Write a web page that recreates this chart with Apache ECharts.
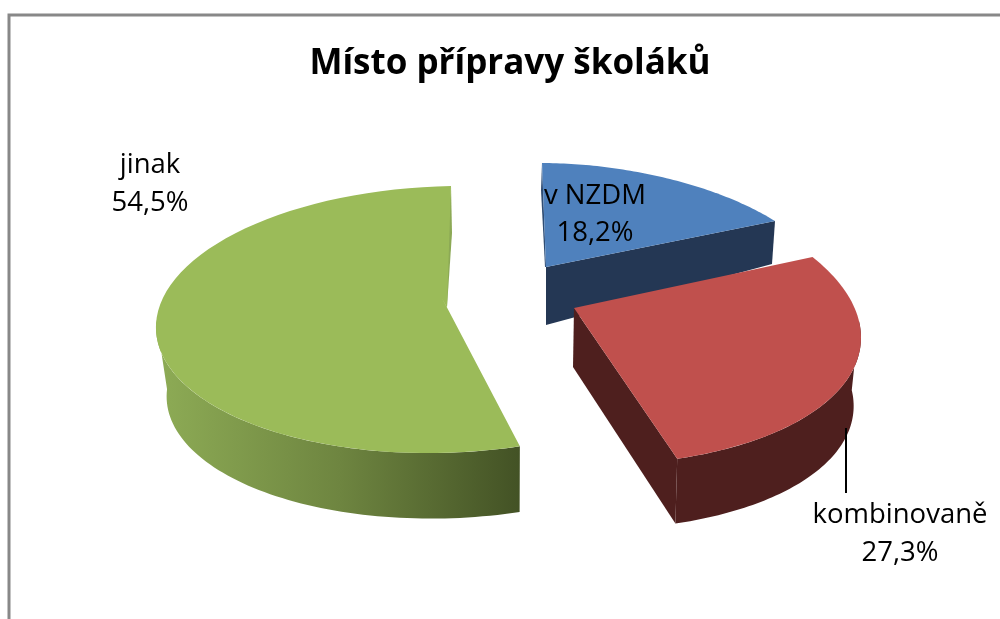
<!DOCTYPE html>
<html><head><meta charset="utf-8">
<style>html,body{margin:0;padding:0;background:#fff}#c{width:1000px;height:619px}</style>
<script src="https://cdn.jsdelivr.net/npm/echarts@6/dist/echarts.min.js"></script>
</head><body><div id="c"></div>
<script>
const categories = ['v NZDM', 'kombinovaně', 'jinak'];
const shares = [18.2, 27.3, 54.5];
const shareLabels = ['18,2%', '27,3%', '54,5%'];
const chartTitle = 'Místo přípravy školáků';

const FONT = '"Open Sans","Noto Sans",sans-serif';
const total = shares.reduce((a, b) => a + b, 0);
const angles = [];
shares.reduce((acc, v) => { angles.push([acc / total * 360, (acc + v) / total * 360]); return acc + v; }, 0);

// Projection of each exploded slice: ellipse terms for the perspective view of the pie.
const views = [
  { c: [598, 261], a: [220, -56], b: [0.8, -98], apex: [546, 267], apexLow: [546, 325], wallEnd: [772, 264], top: '#4F81BD', wall: '#243754' },
  { c: [550, 319], a: [308, -43], b: [-1.6, -146], apex: [574, 308], apexLow: [573, 367], low: [552, 388], top: '#C0504D', wall: '#4E1F1E' },
  { c: [445, 319.5], a: [289, 6], b: [-5, -133.5], apex: [447, 307], low: [447, 389], wallStop: 272, top: '#9BBB59', wall: '#6E8442' }
];
const labelPos = [[595, 196, 233], [900, 515, 553], [150, 165, 203]];
const rad = d => d * Math.PI / 180;

function arc(v, from, to, center, s) {
  const pts = [], n = 70;
  for (let i = 0; i <= n; i++) {
    const t = rad(from + (to - from) * i / n);
    pts.push([center[0] + s * (v.a[0] * Math.sin(t) + v.a[1] * Math.cos(t)),
              center[1] + s * (v.b[0] * Math.sin(t) + v.b[1] * Math.cos(t))]);
  }
  return pts;
}
const poly = (points, fill) => ({ type: 'polygon', shape: { points }, style: { fill } });

function renderItem(params) {
  const i = params.dataIndex, v = views[i], [from, to] = angles[i];
  const children = [];
  const topArc = arc(v, from, to, v.c, 1);
  if (i === 0) {
    children.push(poly([v.apex, topArc[topArc.length - 1], v.wallEnd, v.apexLow], v.wall));
    children.push(poly([topArc[0], [541, 190], [545, 267], v.apex], '#2F4D74'));
  }
  if (i === 1) {
    const lowArc = arc(v, from + 26, to, v.low, 0.97);
    const upArc = arc(v, from + 26, to, v.c, 1);
    children.push(poly(upArc.concat(lowArc.slice().reverse()), v.wall));
    children.push(poly([v.apex, topArc[topArc.length - 1], lowArc[lowArc.length - 1], v.apexLow], v.wall));
    children.push({ type: 'line', shape: { x1: 846, y1: 428, x2: 846, y2: 493 }, style: { stroke: '#000', lineWidth: 2 } });
  }
  if (i === 2) {
    const upArc = arc(v, from, v.wallStop, v.c, 1);
    const lowArc = arc(v, from, v.wallStop, v.low, 0.97);
    children.push(poly(upArc.concat(lowArc.slice().reverse()), {
      type: 'linear', x: 160, y: 0, x2: 520, y2: 0, global: true,
      colorStops: [{ offset: 0, color: '#8DAB55' }, { offset: 0.5, color: '#6E8540' }, { offset: 1, color: '#435225' }]
    }));
    children.push(poly([topArc[topArc.length - 1], [452, 233], v.apex, [442, 298]], '#8CA955'));
    children.push(poly(topArc.concat([v.apex, [442, 298]]), v.top));
  } else {
    children.push(poly(topArc.concat([v.apex]), v.top));
  }
  const p = labelPos[i];
  [[categories[i], p[1]], [shareLabels[i], p[2]]].forEach(([text, y]) => children.push({
    type: 'text', style: { text, x: p[0], y, align: 'center', verticalAlign: 'middle', fill: '#000', font: '27.5px ' + FONT }
  }));
  return { type: 'group', children };
}

const chart = echarts.init(document.getElementById('c'), null, { renderer: 'canvas' });
chart.setOption({
  animation: false,
  backgroundColor: '#fff',
  title: { text: chartTitle, left: 505, top: 42, textAlign: 'center',
    textStyle: { fontFamily: FONT, fontSize: 35, fontWeight: 'bold', color: '#000' } },
  graphic: [{ type: 'polyline', shape: { points: [[9, 625], [9, 15], [1005, 15]] },
    style: { stroke: '#888', lineWidth: 3, fill: null } }],
  series: [{
    type: 'custom', coordinateSystem: 'none', renderItem,
    data: categories.map((name, i) => ({ name, value: shares[i] }))
  }]
});
</script></body></html>
